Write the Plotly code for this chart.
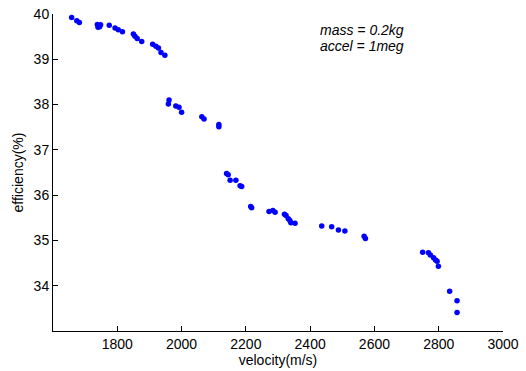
import plotly.graph_objects as go

# Measured efficiency against projectile velocity
velocity = [1658, 1674, 1682, 1738, 1742, 1745, 1748, 1740, 1775, 1793, 1803, 1816,
            1850, 1855, 1862, 1876, 1910, 1920, 1928, 1936, 1948,
            1961, 1959, 1982, 1992, 2000, 2063, 2070, 2116, 2116,
            2140, 2145, 2151, 2169, 2182, 2187, 2215, 2218, 2272, 2284, 2291,
            2320, 2325, 2332, 2337, 2340, 2353, 2436, 2467, 2488, 2508, 2568, 2572,
            2750, 2768, 2774, 2784, 2790, 2795, 2799, 2834, 2857, 2857]
efficiency = [39.92, 39.85, 39.81, 39.77, 39.74, 39.72, 39.76, 39.71, 39.75, 39.69, 39.65, 39.61,
              39.56, 39.51, 39.46, 39.39, 39.33, 39.29, 39.25, 39.15, 39.09,
              38.10, 38.01, 37.97, 37.94, 37.83, 37.73, 37.68, 37.56, 37.51,
              36.48, 36.45, 36.33, 36.33, 36.21, 36.19, 35.75, 35.72, 35.64, 35.66, 35.62,
              35.58, 35.55, 35.48, 35.44, 35.39, 35.38, 35.32, 35.30, 35.23, 35.21, 35.09, 35.04,
              34.74, 34.73, 34.68, 34.62, 34.57, 34.54, 34.43, 33.88, 33.67, 33.41]

x_ticks = [1800, 2000, 2200, 2400, 2600, 2800, 3000]
y_ticks = [34, 35, 36, 37, 38, 39, 40]

fig = go.Figure(go.Scatter(
    x=velocity, y=efficiency, mode="markers",
    marker=dict(color="#0000ff", size=5.5, line=dict(width=0)),
))

axis_common = dict(
    showgrid=False, zeroline=False, showline=True, linecolor="black", linewidth=1,
    ticks="inside", ticklen=5, tickcolor="black", tickwidth=1,
    tickfont=dict(family="Liberation Sans, Arial, sans-serif", size=14, color="black"),
    mirror=False, automargin=False,
)

fig.update_layout(
    width=526, height=371,
    margin=dict(l=53, r=23, t=14, b=40),
    paper_bgcolor="white", plot_bgcolor="white",
    showlegend=False,
    font=dict(family="Liberation Sans, Arial, sans-serif", size=14, color="black"),
    xaxis=dict(range=[1600, 3000], tickvals=x_ticks, title=dict(text="velocity(m/s)", standoff=4,
               font=dict(size=14)), **axis_common),
    yaxis=dict(range=[33, 40], tickvals=y_ticks, title=dict(text="efficiency(%)", standoff=6,
               font=dict(size=14)), **axis_common),
    annotations=[
        dict(x=2425, y=39.65, xref="x", yref="y", text="<i>mass = 0.2kg</i>", showarrow=False,
             xanchor="left", yanchor="middle", font=dict(size=14)),
        dict(x=2425, y=39.29, xref="x", yref="y", text="<i>accel = 1meg</i>", showarrow=False,
             xanchor="left", yanchor="middle", font=dict(size=14)),
    ],
)

fig.write_html("out.html")
